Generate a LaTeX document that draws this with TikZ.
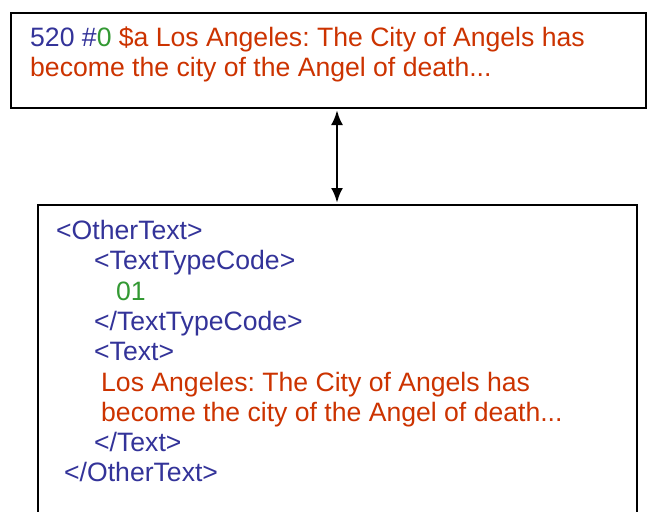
\documentclass[tikz,border=0pt]{standalone}
\usepackage{fontspec}
\setmainfont{Liberation Sans}
\usetikzlibrary{arrows.meta}
\definecolor{tagblue}{RGB}{51,51,153}
\definecolor{codegreen}{RGB}{51,153,51}
\definecolor{textred}{RGB}{204,51,0}
\frenchspacing
\tikzset{
  panel/.style={draw=black, line width=2pt, fill=none, inner sep=0pt, anchor=north west},
  txt/.style={anchor=base west, inner sep=0pt, font=\fontsize{26.6pt}{30.3pt}\selectfont\frenchspacing},
  link/.style={line width=2.8pt, {Latex[length=15pt,width=12pt]}-{Latex[length=15pt,width=12pt]}, shorten <=1pt, shorten >=1pt}
}
\begin{document}
\begin{tikzpicture}[x=1pt, y=-1pt]
  \clip (0,0) rectangle (647,511);
  \fill[white] (0,0) rectangle (647,511);

  % MARC field box
  \node[panel, minimum width=635pt, minimum height=95pt] (marc) at (10,12) {};
  \node[txt] (m1) at (30,46.7) {{\color{tagblue}520 \#}{\color{codegreen}0} {\color{textred}\$a Los Angeles: The City of Angels has}};
  \node[txt, text=textred] (m2) at (30,76.7) {become the city of the Angel of death...};

  % ONIX element box (runs past the lower edge)
  \node[panel, minimum width=599pt, minimum height=340pt] (onix) at (37,204) {};
  \node[txt, text=tagblue]   (o1) at (56,239.5) {<OtherText>};
  \node[txt, text=tagblue]   (o2) at (94,269.8) {<TextTypeCode>};
  \node[txt, text=codegreen] (o3) at (116,300.1) {01};
  \node[txt, text=tagblue]   (o4) at (94,330.4) {</TextTypeCode>};
  \node[txt, text=tagblue]   (o5) at (94,360.7) {<Text>};
  \node[txt, text=textred]   (o6) at (101,391.0) {Los Angeles: The City of Angels has};
  \node[txt, text=textred]   (o7) at (101,421.3) {become the city of the Angel of death...};
  \node[txt, text=tagblue]   (o8) at (94,451.6) {</Text>};
  \node[txt, text=tagblue]   (o9) at (64,481.9) {</OtherText>};

  % two-way mapping arrow
  \draw[link] (onix.north -| 337,0) -- (marc.south -| 337,0);
\end{tikzpicture}
\end{document}
